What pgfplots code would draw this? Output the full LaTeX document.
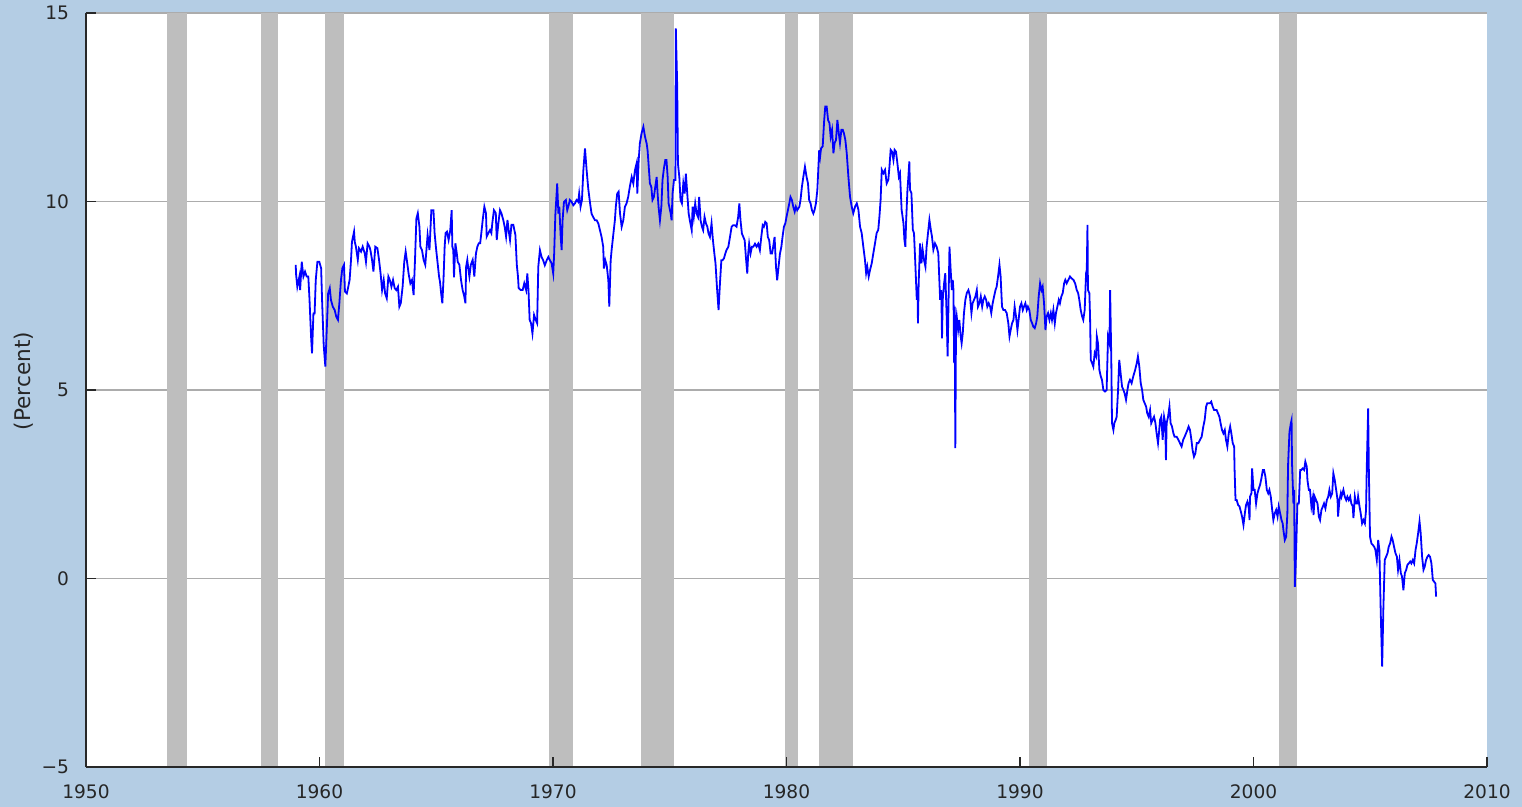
\documentclass[border=0pt]{standalone}
\usepackage{fontspec}
\setmainfont{DejaVu Sans}
\usepackage{xcolor}
\usepackage{pgfplots}
\pgfplotsset{compat=1.18}
\usetikzlibrary{calc}
\definecolor{bgblue}{RGB}{180,205,228}
\definecolor{recgray}{RGB}{190,190,190}
\definecolor{gridgray}{RGB}{172,172,172}
\definecolor{axdark}{RGB}{40,40,40}
\pagecolor{bgblue}
\pgfplotsset{
  layers/mylayers/.define layer set={axis background,axis grid,main,axis ticks,axis lines,axis tick labels,axis descriptions,axis foreground}{/pgfplots/layers/standard},
}
\begin{document}
\begin{tikzpicture}
\begin{axis}[
  name=ax,
  set layers=mylayers,
  scale only axis,
  width=700.5pt, height=377pt,
  xmin=1950, xmax=2010, ymin=-5, ymax=15,
  axis x line*=bottom, axis y line*=left,
  axis background/.style={fill=white},
  xtick={1950,1960,1970,1980,1990,2000,2010},
  xticklabels={1950,1960,1970,1980,1990,2000,2010},
  ytick={-5,0,5,10,15},
  yticklabels={−5,0,5,10,15},
  tick align=inside,
  major tick length=5pt,
  tick style={axdark, line width=0.75pt},
  axis line style={axdark, line width=0.75pt},
  ymajorgrids,
  grid style={gridgray, line width=0.75pt},
  ticklabel style={font=\fontsize{9.3}{11}\selectfont, text=black!85},
  xticklabel style={yshift=-5.5pt},
  yticklabel style={xshift=-5pt},
  ylabel={(Percent)},
  ylabel style={at={(axis description cs:-0.0443,0.512)}, anchor=center, font=\fontsize{10.8}{12}\selectfont, text=black!85},
]
% recession bars
\addplot[fill=recgray, draw=none, forget plot] coordinates {(1953.46,-5)(1953.46,15)(1954.31,15)(1954.31,-5)} -- cycle;
\addplot[fill=recgray, draw=none, forget plot] coordinates {(1957.49,-5)(1957.49,15)(1958.24,15)(1958.24,-5)} -- cycle;
\addplot[fill=recgray, draw=none, forget plot] coordinates {(1960.24,-5)(1960.24,15)(1961.06,15)(1961.06,-5)} -- cycle;
\addplot[fill=recgray, draw=none, forget plot] coordinates {(1969.84,-5)(1969.84,15)(1970.84,15)(1970.84,-5)} -- cycle;
\addplot[fill=recgray, draw=none, forget plot] coordinates {(1973.77,-5)(1973.77,15)(1975.20,15)(1975.20,-5)} -- cycle;
\addplot[fill=recgray, draw=none, forget plot] coordinates {(1979.94,-5)(1979.94,15)(1980.51,15)(1980.51,-5)} -- cycle;
\addplot[fill=recgray, draw=none, forget plot] coordinates {(1981.40,-5)(1981.40,15)(1982.83,15)(1982.83,-5)} -- cycle;
\addplot[fill=recgray, draw=none, forget plot] coordinates {(1990.40,-5)(1990.40,15)(1991.14,15)(1991.14,-5)} -- cycle;
\addplot[fill=recgray, draw=none, forget plot] coordinates {(2001.10,-5)(2001.10,15)(2001.85,15)(2001.85,-5)} -- cycle;
% personal saving rate
\addplot[color=blue, line width=0.9pt, mark=none, line join=miter] coordinates {
(1958.98,8.32)(1959.00,8.05)(1959.05,7.74)(1959.14,8.01)(1959.17,7.65)(1959.24,8.40)(1959.31,8.01)(1959.38,8.14)(1959.45,8.01)(1959.52,8.01)(1959.57,7.43)(1959.64,6.41)(1959.68,5.97)(1959.74,7.03)(1959.79,7.03)(1959.84,7.92)(1959.91,8.40)(1959.99,8.40)(1960.07,8.23)(1960.11,7.39)(1960.18,6.19)(1960.25,5.62)(1960.31,6.59)(1960.37,7.56)(1960.44,7.70)(1960.49,7.39)(1960.57,7.21)(1960.65,7.12)(1960.72,6.94)(1960.79,6.86)(1960.85,7.30)(1960.92,7.92)(1960.98,8.23)(1961.05,8.32)(1961.09,7.61)(1961.17,7.56)(1961.22,7.70)(1961.29,7.92)(1961.35,8.45)(1961.39,8.93)(1961.48,9.20)(1961.51,8.93)(1961.56,8.80)(1961.64,8.45)(1961.69,8.76)(1961.78,8.67)(1961.85,8.80)(1961.94,8.62)(1961.99,8.40)(1962.06,8.89)(1962.14,8.80)(1962.18,8.71)(1962.25,8.45)(1962.31,8.14)(1962.39,8.80)(1962.48,8.76)(1962.55,8.45)(1962.62,8.07)(1962.68,7.65)(1962.75,7.92)(1962.81,7.56)(1962.88,7.43)(1962.95,8.01)(1963.01,7.92)(1963.08,7.74)(1963.15,7.92)(1963.22,7.70)(1963.29,7.65)(1963.36,7.74)(1963.42,7.21)(1963.48,7.30)(1963.56,7.74)(1963.63,8.40)(1963.69,8.67)(1963.75,8.40)(1963.82,8.07)(1963.89,7.83)(1963.96,7.92)(1964.03,7.52)(1964.09,8.45)(1964.15,9.55)(1964.21,9.69)(1964.28,9.33)(1964.32,8.80)(1964.39,8.71)(1964.46,8.45)(1964.53,8.32)(1964.59,8.80)(1964.63,9.11)(1964.71,8.71)(1964.79,9.77)(1964.88,9.77)(1964.93,9.16)(1964.99,8.76)(1965.06,8.36)(1965.12,8.01)(1965.16,7.87)(1965.21,7.56)(1965.26,7.30)(1965.31,7.92)(1965.36,8.80)(1965.40,9.16)(1965.46,9.20)(1965.53,8.98)(1965.60,9.24)(1965.66,9.77)(1965.69,8.80)(1965.73,8.71)(1965.76,7.99)(1965.82,8.89)(1965.88,8.62)(1965.92,8.40)(1965.99,8.32)(1966.06,7.92)(1966.13,7.65)(1966.20,7.48)(1966.25,7.30)(1966.28,8.27)(1966.33,8.45)(1966.39,8.14)(1966.42,8.01)(1966.48,8.32)(1966.56,8.45)(1966.63,8.01)(1966.70,8.62)(1966.76,8.80)(1966.82,8.89)(1966.88,8.89)(1966.93,9.16)(1966.99,9.51)(1967.06,9.86)(1967.13,9.69)(1967.16,9.07)(1967.23,9.16)(1967.30,9.24)(1967.36,9.16)(1967.40,9.42)(1967.47,9.77)(1967.55,9.69)(1967.59,8.98)(1967.66,9.42)(1967.73,9.77)(1967.79,9.69)(1967.87,9.51)(1967.93,9.33)(1967.99,9.07)(1968.05,9.51)(1968.10,9.24)(1968.16,8.98)(1968.22,9.38)(1968.30,9.38)(1968.39,9.11)(1968.45,8.32)(1968.50,8.01)(1968.53,7.70)(1968.62,7.65)(1968.70,7.65)(1968.77,7.83)(1968.85,7.65)(1968.90,8.09)(1968.95,7.65)(1969.00,6.86)(1969.06,6.77)(1969.12,6.50)(1969.19,6.99)(1969.26,6.86)(1969.32,6.77)(1969.37,8.27)
(1969.44,8.71)(1969.51,8.53)(1969.58,8.44)(1969.65,8.31)(1969.73,8.44)(1969.80,8.53)(1969.87,8.44)(1969.94,8.36)(1970.01,8.09)(1970.05,8.62)(1970.10,9.64)(1970.18,10.48)(1970.23,9.68)(1970.27,9.86)(1970.33,9.06)(1970.37,8.71)(1970.41,9.50)(1970.47,9.99)(1970.55,10.04)(1970.61,9.77)(1970.67,9.90)(1970.72,10.04)(1970.80,9.99)(1970.87,9.90)(1970.94,9.95)(1971.01,10.04)(1971.08,9.99)(1971.12,10.21)(1971.18,9.86)(1971.24,10.04)(1971.30,10.83)(1971.37,11.41)(1971.44,10.83)(1971.51,10.34)(1971.58,9.99)(1971.65,9.68)(1971.72,9.59)(1971.80,9.50)(1971.87,9.50)(1971.94,9.42)(1972.01,9.24)(1972.08,9.06)(1972.15,8.80)(1972.18,8.22)(1972.24,8.44)(1972.30,8.31)(1972.37,7.91)(1972.41,7.21)(1972.47,8.44)(1972.51,8.71)(1972.58,9.11)(1972.65,9.50)(1972.69,9.86)(1972.75,10.21)(1972.81,10.26)(1972.87,9.68)(1972.94,9.33)(1973.01,9.50)(1973.08,9.86)(1973.15,9.95)(1973.22,10.12)(1973.29,10.39)(1973.37,10.65)(1973.44,10.48)(1973.51,10.83)(1973.58,11.01)(1973.61,10.21)(1973.67,11.10)(1973.72,11.54)(1973.79,11.80)(1973.87,11.98)(1973.94,11.72)(1974.01,11.54)(1974.05,11.36)(1974.09,11.01)(1974.15,10.48)(1974.21,10.39)(1974.26,10.04)(1974.32,10.12)(1974.38,10.39)(1974.44,10.65)(1974.48,10.21)(1974.52,9.86)(1974.58,9.50)(1974.64,9.86)(1974.69,10.57)(1974.75,10.88)(1974.81,11.10)(1974.86,11.10)(1974.91,10.65)(1974.95,9.95)(1974.98,9.86)(1975.04,9.68)(1975.08,9.50)(1975.12,10.21)(1975.18,10.57)(1975.24,10.57)(1975.26,14.59)(1975.32,13.04)(1975.35,11.01)(1975.41,10.65)(1975.46,10.04)(1975.52,9.95)(1975.58,10.48)(1975.64,10.21)(1975.69,10.74)(1975.75,10.21)(1975.81,9.68)(1975.86,9.50)(1975.94,9.24)(1975.98,9.86)(1976.03,9.59)(1976.09,9.95)(1976.15,9.68)(1976.21,9.59)(1976.26,10.12)(1976.32,9.50)(1976.38,9.33)(1976.43,9.24)(1976.49,9.59)(1976.55,9.42)(1976.61,9.33)(1976.66,9.15)(1976.72,9.06)(1976.79,9.42)(1976.85,8.97)(1976.91,8.62)(1976.96,8.36)(1977.02,7.74)(1977.09,7.12)(1977.15,7.83)(1977.21,8.44)(1977.26,8.44)(1977.32,8.49)(1977.38,8.62)(1977.43,8.71)(1977.51,8.80)(1977.58,9.06)(1977.65,9.33)(1977.72,9.37)(1977.79,9.37)(1977.86,9.33)(1977.93,9.59)(1977.98,9.95)(1978.03,9.50)(1978.09,9.15)(1978.15,9.06)(1978.21,8.97)(1978.26,8.53)(1978.32,8.09)(1978.36,8.62)(1978.40,8.88)(1978.46,8.62)(1978.52,8.80)(1978.58,8.80)(1978.65,8.88)(1978.72,8.80)(1978.79,8.88)(1978.86,8.71)(1978.92,9.06)(1978.98,9.37)(1979.03,9.33)(1979.09,9.46)(1979.15,9.42)(1979.20,9.06)(1979.26,8.97)(1979.32,8.62)(1979.38,8.62)(1979.43,8.80)(1979.49,9.06)(1979.55,8.27)(1979.60,7.91)(1979.66,8.27)(1979.72,8.62)(1979.78,8.80)(1979.83,9.06)(1979.89,9.33)(1979.95,9.42)(1980.00,9.59)(1980.06,9.77)(1980.12,9.95)(1980.17,10.12)(1980.23,10.04)(1980.29,9.86)(1980.35,9.73)(1980.40,9.86)(1980.46,9.77)(1980.55,9.86)(1980.60,10.04)(1980.66,10.39)(1980.72,10.65)(1980.79,10.92)(1980.86,10.65)(1980.92,10.48)(1980.97,10.04)(1981.03,9.95)(1981.09,9.77)(1981.15,9.68)(1981.20,9.77)(1981.26,9.95)(1981.32,10.30)(1981.36,10.83)(1981.40,11.36)
(1981.44,11.19)(1981.48,11.41)(1981.55,11.46)(1981.61,12.12)(1981.66,12.52)(1981.72,12.52)(1981.78,12.16)(1981.84,12.08)(1981.89,11.72)(1981.95,11.90)(1982.01,11.28)(1982.06,11.55)(1982.12,11.63)(1982.18,12.16)(1982.24,11.81)(1982.29,11.55)(1982.35,11.90)(1982.41,11.90)(1982.46,11.81)(1982.52,11.63)(1982.58,11.28)(1982.65,10.66)(1982.72,10.13)(1982.79,9.87)(1982.86,9.69)(1982.94,9.87)(1983.01,9.95)(1983.08,9.78)(1983.15,9.33)(1983.22,9.16)(1983.29,8.80)(1983.36,8.45)(1983.41,8.10)(1983.46,8.27)(1983.52,8.01)(1983.58,8.19)(1983.65,8.36)(1983.72,8.63)(1983.79,8.89)(1983.86,9.16)(1983.93,9.25)(1983.98,9.60)(1984.03,10.04)(1984.08,10.84)(1984.15,10.75)(1984.22,10.84)(1984.29,10.48)(1984.36,10.57)(1984.41,10.93)(1984.46,11.37)(1984.52,11.32)(1984.58,11.10)(1984.63,11.37)(1984.69,11.32)(1984.75,11.01)(1984.81,10.66)(1984.86,10.75)(1984.93,9.78)(1985.01,9.42)(1985.05,8.98)(1985.09,8.80)(1985.12,9.42)(1985.18,10.31)(1985.22,10.66)(1985.26,11.06)(1985.29,10.31)(1985.35,10.22)(1985.41,9.25)(1985.46,9.16)(1985.51,8.45)(1985.58,7.39)(1985.61,7.74)(1985.63,6.77)(1985.66,7.83)(1985.72,8.89)(1985.78,8.36)(1985.83,8.72)(1985.89,8.45)(1985.95,8.27)(1986.00,8.80)(1986.06,9.16)(1986.12,9.51)(1986.18,9.25)(1986.23,9.07)(1986.29,8.72)(1986.36,8.89)(1986.43,8.80)(1986.50,8.63)(1986.58,7.39)(1986.63,7.65)(1986.66,6.37)(1986.69,7.39)(1986.75,7.83)(1986.80,8.10)(1986.86,6.95)(1986.90,5.89)(1986.95,7.74)(1986.98,8.80)(1987.03,8.19)(1987.08,7.65)(1987.12,7.92)(1987.15,7.65)(1987.18,5.71)(1987.20,7.21)(1987.23,3.46)(1987.26,6.77)(1987.29,6.95)(1987.35,6.59)(1987.40,6.86)(1987.46,6.42)(1987.50,6.24)(1987.55,6.51)(1987.60,7.04)(1987.66,7.39)(1987.72,7.57)(1987.79,7.65)(1987.86,7.48)(1987.92,7.04)(1987.97,7.30)(1988.03,7.39)(1988.09,7.48)(1988.15,7.65)(1988.20,7.21)(1988.26,7.30)(1988.32,7.48)(1988.38,7.21)(1988.43,7.39)(1988.49,7.48)(1988.55,7.39)(1988.60,7.21)(1988.66,7.30)(1988.72,7.21)(1988.77,7.04)(1988.83,7.30)(1988.89,7.48)(1988.95,7.65)(1989.00,7.74)(1989.06,8.01)(1989.12,8.32)(1989.17,8.01)(1989.23,7.21)(1989.29,7.12)(1989.36,7.12)(1989.43,7.04)(1989.50,6.77)(1989.55,6.42)(1989.60,6.59)(1989.66,6.77)(1989.72,6.86)(1989.77,7.21)(1989.83,6.95)(1989.89,6.59)(1989.94,6.86)(1990.00,7.21)(1990.06,7.30)(1990.12,7.12)(1990.17,7.21)(1990.23,7.30)(1990.29,7.12)(1990.34,7.21)(1990.40,7.12)(1990.46,6.86)(1990.52,6.77)(1990.57,6.68)(1990.63,6.64)(1990.69,6.77)(1990.74,6.95)(1990.80,7.48)(1990.86,7.83)(1990.92,7.65)(1990.97,7.74)(1991.03,7.30)(1991.09,6.59)(1991.14,6.95)(1991.20,7.04)(1991.26,6.86)(1991.32,7.04)(1991.37,6.86)(1991.43,7.12)(1991.49,6.77)(1991.54,7.04)(1991.60,7.21)(1991.66,7.39)(1991.71,7.30)(1991.77,7.48)(1991.83,7.57)(1991.89,7.83)(1991.94,7.92)(1992.00,7.83)(1992.07,7.92)(1992.14,8.01)(1992.21,7.96)(1992.29,7.92)(1992.36,7.83)(1992.43,7.65)(1992.49,7.57)(1992.54,7.39)(1992.60,7.12)(1992.66,6.95)(1992.71,6.86)(1992.77,7.12)(1992.83,8.10)(1992.86,8.19)(1992.89,9.38)(1992.91,7.65)(1992.97,7.57)(1993.00,6.95)(1993.03,5.80)(1993.09,5.71)(1993.14,5.62)(1993.20,5.98)(1993.26,5.89)(1993.29,6.42)(1993.34,6.24)(1993.40,5.53)
(1993.46,5.36)(1993.51,5.27)(1993.57,5.00)(1993.64,4.96)(1993.71,5.00)(1993.77,6.41)(1993.83,6.24)(1993.86,7.65)(1993.91,5.80)(1993.94,4.12)(1994.00,3.94)(1994.04,4.12)(1994.10,4.21)(1994.14,4.29)(1994.20,5.00)(1994.25,5.80)(1994.31,5.44)(1994.37,5.09)(1994.43,5.00)(1994.48,4.91)(1994.54,4.74)(1994.60,5.00)(1994.65,5.18)(1994.71,5.27)(1994.78,5.18)(1994.85,5.36)(1994.93,5.53)(1995.00,5.71)(1995.05,5.89)(1995.11,5.62)(1995.17,5.18)(1995.23,5.00)(1995.28,4.74)(1995.34,4.65)(1995.40,4.56)(1995.45,4.38)(1995.51,4.29)(1995.57,4.47)(1995.62,4.12)(1995.68,4.21)(1995.74,4.29)(1995.80,4.12)(1995.85,3.85)(1995.91,3.59)(1995.95,3.85)(1996.00,4.21)(1996.05,4.29)(1996.11,3.68)(1996.17,4.29)(1996.22,4.12)(1996.25,3.14)(1996.28,4.12)(1996.34,4.29)(1996.40,4.56)(1996.45,4.12)(1996.51,4.03)(1996.57,3.85)(1996.62,3.76)(1996.71,3.76)(1996.78,3.68)(1996.85,3.59)(1996.92,3.50)(1996.99,3.68)(1997.05,3.76)(1997.11,3.85)(1997.17,3.94)(1997.22,4.03)(1997.28,3.94)(1997.34,3.68)(1997.39,3.41)(1997.45,3.23)(1997.51,3.32)(1997.57,3.59)(1997.64,3.59)(1997.71,3.68)(1997.78,3.76)(1997.85,4.03)(1997.91,4.21)(1997.97,4.56)(1998.02,4.65)(1998.08,4.65)(1998.14,4.65)(1998.19,4.69)(1998.25,4.56)(1998.31,4.47)(1998.37,4.47)(1998.42,4.47)(1998.48,4.38)(1998.54,4.29)(1998.59,4.12)(1998.65,3.94)(1998.71,3.85)(1998.77,3.94)(1998.82,3.68)(1998.88,3.50)(1998.94,3.85)(1999.00,4.03)(1999.05,3.85)(1999.11,3.59)(1999.17,3.50)(1999.19,2.88)
(1999.23,2.08)(1999.28,2.08)(1999.34,1.95)(1999.40,1.91)(1999.46,1.77)(1999.51,1.64)(1999.57,1.42)(1999.63,1.73)(1999.68,1.95)(1999.74,2.04)(1999.80,1.86)(1999.83,1.55)(1999.85,2.17)(1999.91,2.26)(1999.94,2.92)(2000.00,2.35)(2000.05,2.35)(2000.11,1.99)(2000.17,2.26)(2000.23,2.39)(2000.28,2.48)(2000.34,2.66)(2000.40,2.88)(2000.45,2.88)(2000.51,2.70)(2000.57,2.35)(2000.63,2.26)(2000.68,2.35)(2000.74,2.17)(2000.80,1.82)(2000.85,1.55)(2000.91,1.73)(2000.97,1.82)(2001.03,1.64)(2001.08,1.91)(2001.14,1.73)(2001.20,1.55)(2001.25,1.46)(2001.28,1.29)(2001.34,1.02)(2001.40,1.11)(2001.45,1.73)(2001.48,3.01)(2001.54,3.89)(2001.60,4.12)(2001.63,4.20)(2001.65,3.05)(2001.71,1.99)(2001.74,2.35)(2001.77,-0.22)(2001.80,0.23)(2001.83,0.84)(2001.88,1.99)(2001.94,1.99)(2002.00,2.88)(2002.05,2.88)(2002.11,2.92)(2002.17,2.88)(2002.22,3.10)(2002.28,2.97)(2002.31,2.61)(2002.37,2.35)(2002.42,2.35)(2002.48,1.91)(2002.54,2.13)(2002.57,1.68)(2002.62,2.17)(2002.68,2.08)(2002.74,1.99)(2002.80,1.64)(2002.85,1.55)(2002.91,1.82)(2002.97,1.91)(2003.02,1.99)(2003.08,1.86)(2003.14,2.08)(2003.20,2.17)(2003.25,2.35)(2003.31,2.17)(2003.37,2.26)(2003.42,2.79)(2003.48,2.61)(2003.54,2.35)(2003.60,2.08)(2003.62,1.64)(2003.68,2.08)(2003.74,2.26)(2003.77,2.17)(2003.85,2.35)(2003.91,2.17)(2003.97,2.08)(2004.02,2.17)(2004.08,2.08)(2004.14,2.17)(2004.19,1.99)(2004.25,1.91)(2004.28,1.60)(2004.34,2.17)(2004.39,1.99)(2004.45,1.99)(2004.48,2.17)(2004.54,1.91)(2004.59,1.73)(2004.65,1.46)(2004.71,1.55)(2004.77,1.46)(2004.82,1.82)(2004.85,2.92)(2004.91,4.51)(2004.94,2.88)(2004.99,1.11)(2005.05,0.93)(2005.11,0.89)(2005.17,0.84)(2005.22,0.76)(2005.28,0.49)(2005.34,1.02)(2005.39,0.76)(2005.45,-0.92)(2005.51,-2.34)(2005.56,-0.84)(2005.62,0.49)(2005.68,0.58)(2005.74,0.67)(2005.79,0.84)(2005.85,0.93)(2005.91,1.11)(2005.96,1.02)(2006.02,0.84)(2006.08,0.67)(2006.14,0.58)(2006.19,0.23)(2006.25,0.49)(2006.31,0.14)(2006.36,0.05)(2006.42,-0.31)(2006.48,0.14)(2006.54,0.23)(2006.59,0.36)(2006.65,0.40)(2006.71,0.45)(2006.76,0.40)(2006.82,0.49)(2006.88,0.40)(2006.94,0.76)(2006.99,0.93)(2007.05,1.20)(2007.11,1.51)(2007.16,1.20)(2007.22,0.58)(2007.28,0.23)(2007.33,0.31)(2007.39,0.49)(2007.45,0.58)(2007.50,0.62)(2007.56,0.58)(2007.62,0.40)(2007.68,-0.04)(2007.73,-0.08)(2007.79,-0.13)(2007.82,-0.48)
};
\end{axis}
\pgfresetboundingbox
\path[use as bounding box] ($(ax.south west)+(-43pt,-20pt)$) rectangle ($(ax.north east)+(17.5pt,6.5pt)$);
\end{tikzpicture}
\end{document}
